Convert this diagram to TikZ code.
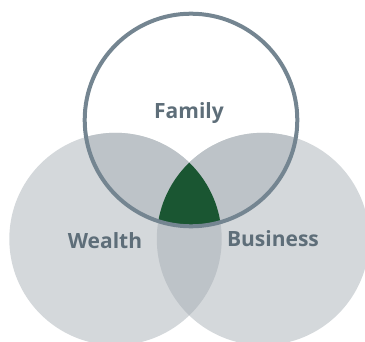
\documentclass[tikz,border=0pt]{standalone}
\usepackage{fontspec}
\setsansfont{Open Sans}
\usepackage{xcolor}

\definecolor{ringgray}{HTML}{D4D8DB}
\definecolor{lensgray}{HTML}{BDC3C8}
\definecolor{slate}{HTML}{748591}
\definecolor{labelgray}{HTML}{5E6E79}
\definecolor{coregreen}{HTML}{1A5632}

\tikzset{
	tag/.style={text=labelgray, font=\sffamily\bfseries\fontsize{21}{21}\selectfont},
	ring/.style={circle, minimum size=212.4pt, inner sep=0pt}
}

\begin{document}
\begin{tikzpicture}[x=1pt,y=1pt]
		\useasboundingbox (0,0) rectangle (365,341);

		% the three circles
		\draw (115.5,102) node[ring, fill=ringgray] (W) {};
		\draw (263,102) node[ring, fill=ringgray] (B) {};
		\draw (191,221) node[ring] (F) {};

		% overlaps
		\begin{scope}
			\clip (W.center) circle (106.2);
			\fill[lensgray] (B.center) circle (106.2);
		\end{scope}
		\begin{scope}
			\clip (F.center) circle (106.3);
			\fill[lensgray] (W.center) circle (106.2);
			\fill[lensgray] (B.center) circle (106.2);
			\clip (W.center) circle (106.2);
			\fill[coregreen] (B.center) circle (106.2);
		\end{scope}

		\draw[slate, line width=4pt] (F.center) circle (106.3);

		% labels
		\draw (189,228) node[tag] (f) {Family};
		\draw (105,100.5) node[tag] (w) {Wealth};
		\draw (273,102.5) node[tag] (b) {Business};
	\end{tikzpicture}
\end{document}
